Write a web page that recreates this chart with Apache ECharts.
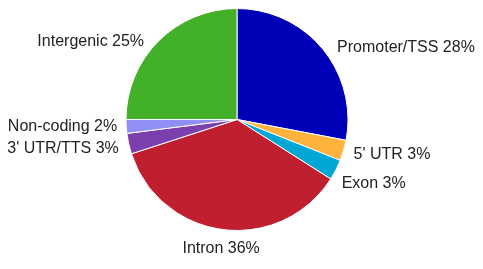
<!DOCTYPE html>
<html><head><meta charset="utf-8">
<script src="https://cdn.jsdelivr.net/npm/echarts@6/dist/echarts.min.js"></script>
<style>html,body{margin:0;padding:0;background:#fff}#c{width:483px;height:269px}</style>
</head><body><div id="c"></div>
<script>
const categories = ["Promoter/TSS", "5' UTR", "Exon", "Intron", "3' UTR/TTS", "Non-coding", "Intergenic"];
const values = [28, 3, 3, 36, 3, 2, 25];
const colors = ["#0000b8", "#ffb23c", "#00a6d4", "#c01f2f", "#7c3fae", "#8f8ff5", "#43b02a"];
// small text nudges for labels (style only)
const labelNudge = [[0, 0], [-5, 4], [-9, 13], [50, 17], [0, 4], [1, 0], [0, 2]];

const chart = echarts.init(document.getElementById('c'), null, {renderer: 'canvas'});
chart.setOption({
  animation: false,
  color: colors,
  series: [{
    type: 'pie',
    center: [237, 119.5],
    radius: 111,
    startAngle: 90,
    clockwise: true,
    avoidLabelOverlap: true,
    itemStyle: {borderColor: '#fff', borderWidth: 1},
    label: {
      show: true,
      position: 'outside',
      overflow: 'none',
      fontFamily: 'Liberation Sans, Arial, sans-serif',
      fontSize: 16,
      color: '#222',
      distanceToLabelLine: 5,
      formatter: p => p.name + ' ' + p.value + '%'
    },
    labelLine: {show: false, length: 2, length2: 8},
    labelLayout: p => ({dx: labelNudge[p.dataIndex][0], dy: labelNudge[p.dataIndex][1]}),
    emphasis: {disabled: true},
    data: categories.map((n, i) => ({name: n, value: values[i]}))
  }]
});
</script></body></html>
